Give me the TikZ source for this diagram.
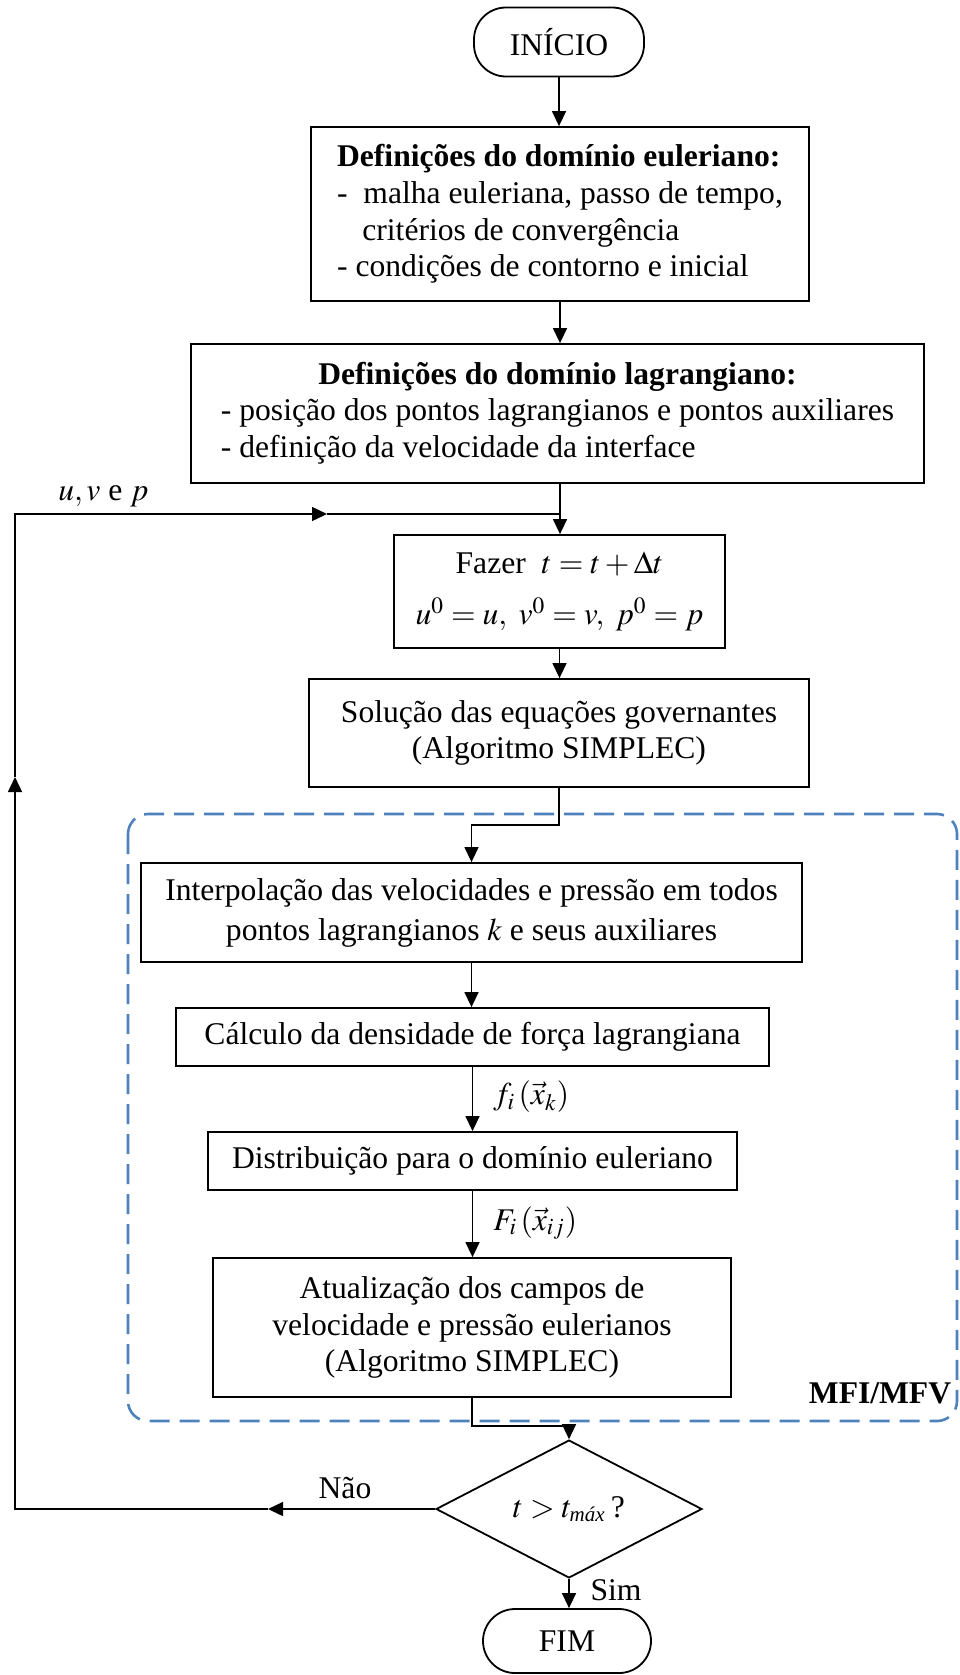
\documentclass[tikz,border=0pt]{standalone}
\usepackage{mathptmx}
\usepackage[no-math]{fontspec}
\setmainfont{Liberation Serif}
\usetikzlibrary{arrows.meta,shapes.geometric,calc}
\definecolor{dashblue}{RGB}{79,129,189}
\tikzset{
  txt/.style={font=\fontsize{15.8}{18.4}\selectfont},
  box/.style={draw, line width=0.9pt, inner sep=0pt, txt},
  term/.style={draw, line width=0.9pt, rounded corners=16pt, inner sep=0pt, txt},
  conn/.style={line width=0.7pt, -{Triangle[length=7.5pt,width=7pt]}},
  plain/.style={line width=0.7pt},
  lbl/.style={inner sep=0pt, txt}
}
\begin{document}
\begin{tikzpicture}[x=0.5pt,y=-0.5pt]
\useasboundingbox (0,0) rectangle (959,1675);

% container
\draw[dashblue, line width=1.3pt, dash pattern=on 10pt off 5pt, rounded corners=10pt]
  (128,814) rectangle (957,1421);

\node[term, minimum width=85pt, minimum height=34.5pt] (start) at (559,42) {INÍCIO};

\node[box, minimum width=249pt, minimum height=87pt, align=left] (b1) at (560,214)
  {\textbf{Definições do domínio euleriano:}\\
   -\ \ malha euleriana, passo de tempo,\\
   \hspace{0.8em}critérios de convergência\\
   - condições de contorno e inicial};

\node[box, minimum width=366.5pt, minimum height=69.5pt] (b2) at (557.5,413.5)
  {\renewcommand{\arraystretch}{1.0}\begin{tabular}{@{}l@{}}
   \multicolumn{1}{@{}c@{}}{\textbf{Definições do domínio lagrangiano:}}\\
   - posição dos pontos lagrangianos e pontos auxiliares\\
   - definição da velocidade da interface
   \end{tabular}};

\node[box, minimum width=165.5pt, minimum height=56.5pt, align=center] (b3) at (559.5,591.5)
  {Fazer \ $t=t+\Delta t$\\[7pt]
   $u^{0}=u,\ v^{0}=v,\ p^{0}=p$};

\node[box, minimum width=250pt, minimum height=54pt, align=center] (b4) at (559,733)
  {Solução das equações governantes\\(Algoritmo SIMPLEC)};

\node[box, minimum width=330.5pt, minimum height=49.5pt, align=center] (b5) at (471.5,912.5)
  {Interpolação das velocidades e pressão em todos\\[1.6pt]
   pontos lagrangianos $k$ e seus auxiliares};

\node[box, minimum width=296.5pt, minimum height=29pt] (b6) at (472.5,1037)
  {Cálculo da densidade de força lagrangiana};

\node[box, minimum width=264.5pt, minimum height=29pt] (b7) at (472.5,1161)
  {Distribuição para o domínio euleriano};

\node[box, minimum width=259pt, minimum height=69.5pt, align=center] (b8) at (472,1327.5)
  {Atualização dos campos de\\velocidade e pressão eulerianos\\(Algoritmo SIMPLEC)};

\node[box, diamond, minimum width=133pt, minimum height=54pt] (dec) at (569,1509)
  {$t>t_{\mbox{\fontsize{10.5}{10.5}\selectfont\itshape máx}}$\,?};

\node[term, minimum width=84pt, minimum height=32pt] (end) at (567,1641) {FIM};

% labels
\node[lbl, anchor=base west] (uvp) at (58,500) {$u,v$ e $p$};
\node[lbl, anchor=west] (fk) at (493,1097) {$f_{i}\left(\vec{x}_{k}\right)$};
\node[lbl, anchor=west] (Fij) at (493,1223) {$F_{i}\left(\vec{x}_{ij}\right)$};
\node[lbl] (nao) at (345,1488) {Não};
\node[lbl] (sim) at (616,1590) {Sim};
\node[lbl, font=\fontsize{15.8}{18.4}\selectfont\bfseries] (mfi) at (880,1393) {MFI/MFV};

% coordinates
\coordinate (j) at (560,514);
\coordinate (nw) at (15,514);
\coordinate (hmid) at (327,514);
\coordinate (vmid) at (15,777);
\coordinate (sw) at (15,1509);
\coordinate (nmid) at (268,1509);
\coordinate (b45) at (560,825);
\coordinate (b8d) at (472,1426);

% main connectors
\draw[conn] (start.south) -- (start.south |- b1.north);
\draw[conn] (b1.south) -- (b1.south |- b2.north);
\draw[conn] (b1.south |- b2.south) -- (b1.south |- b3.north);
\draw[conn] (b3.south) -- (b3.south |- b4.north);
\draw[conn] (b4.south) -- (b4.south |- b45) -| (b5.north);
\draw[conn] (b5.south) -- (b5.south |- b6.north);
\draw[conn] (b6.south) -- (b6.south |- b7.north);
\draw[conn] (b7.south) -- (b7.south |- b8.north);
\draw[conn] (b8.south) -- (b8.south |- b8d) -| (dec.north);
\draw[conn] (dec.south) -- (dec.south |- end.north);

% feedback loop
\draw[conn] (dec.west) -- (nmid);
\draw[conn] (nmid) -- (sw) -- (vmid);
\draw[conn] (vmid) -- (nw) -- (hmid);
\draw[plain] (hmid) -- (j);
\end{tikzpicture}
\end{document}
